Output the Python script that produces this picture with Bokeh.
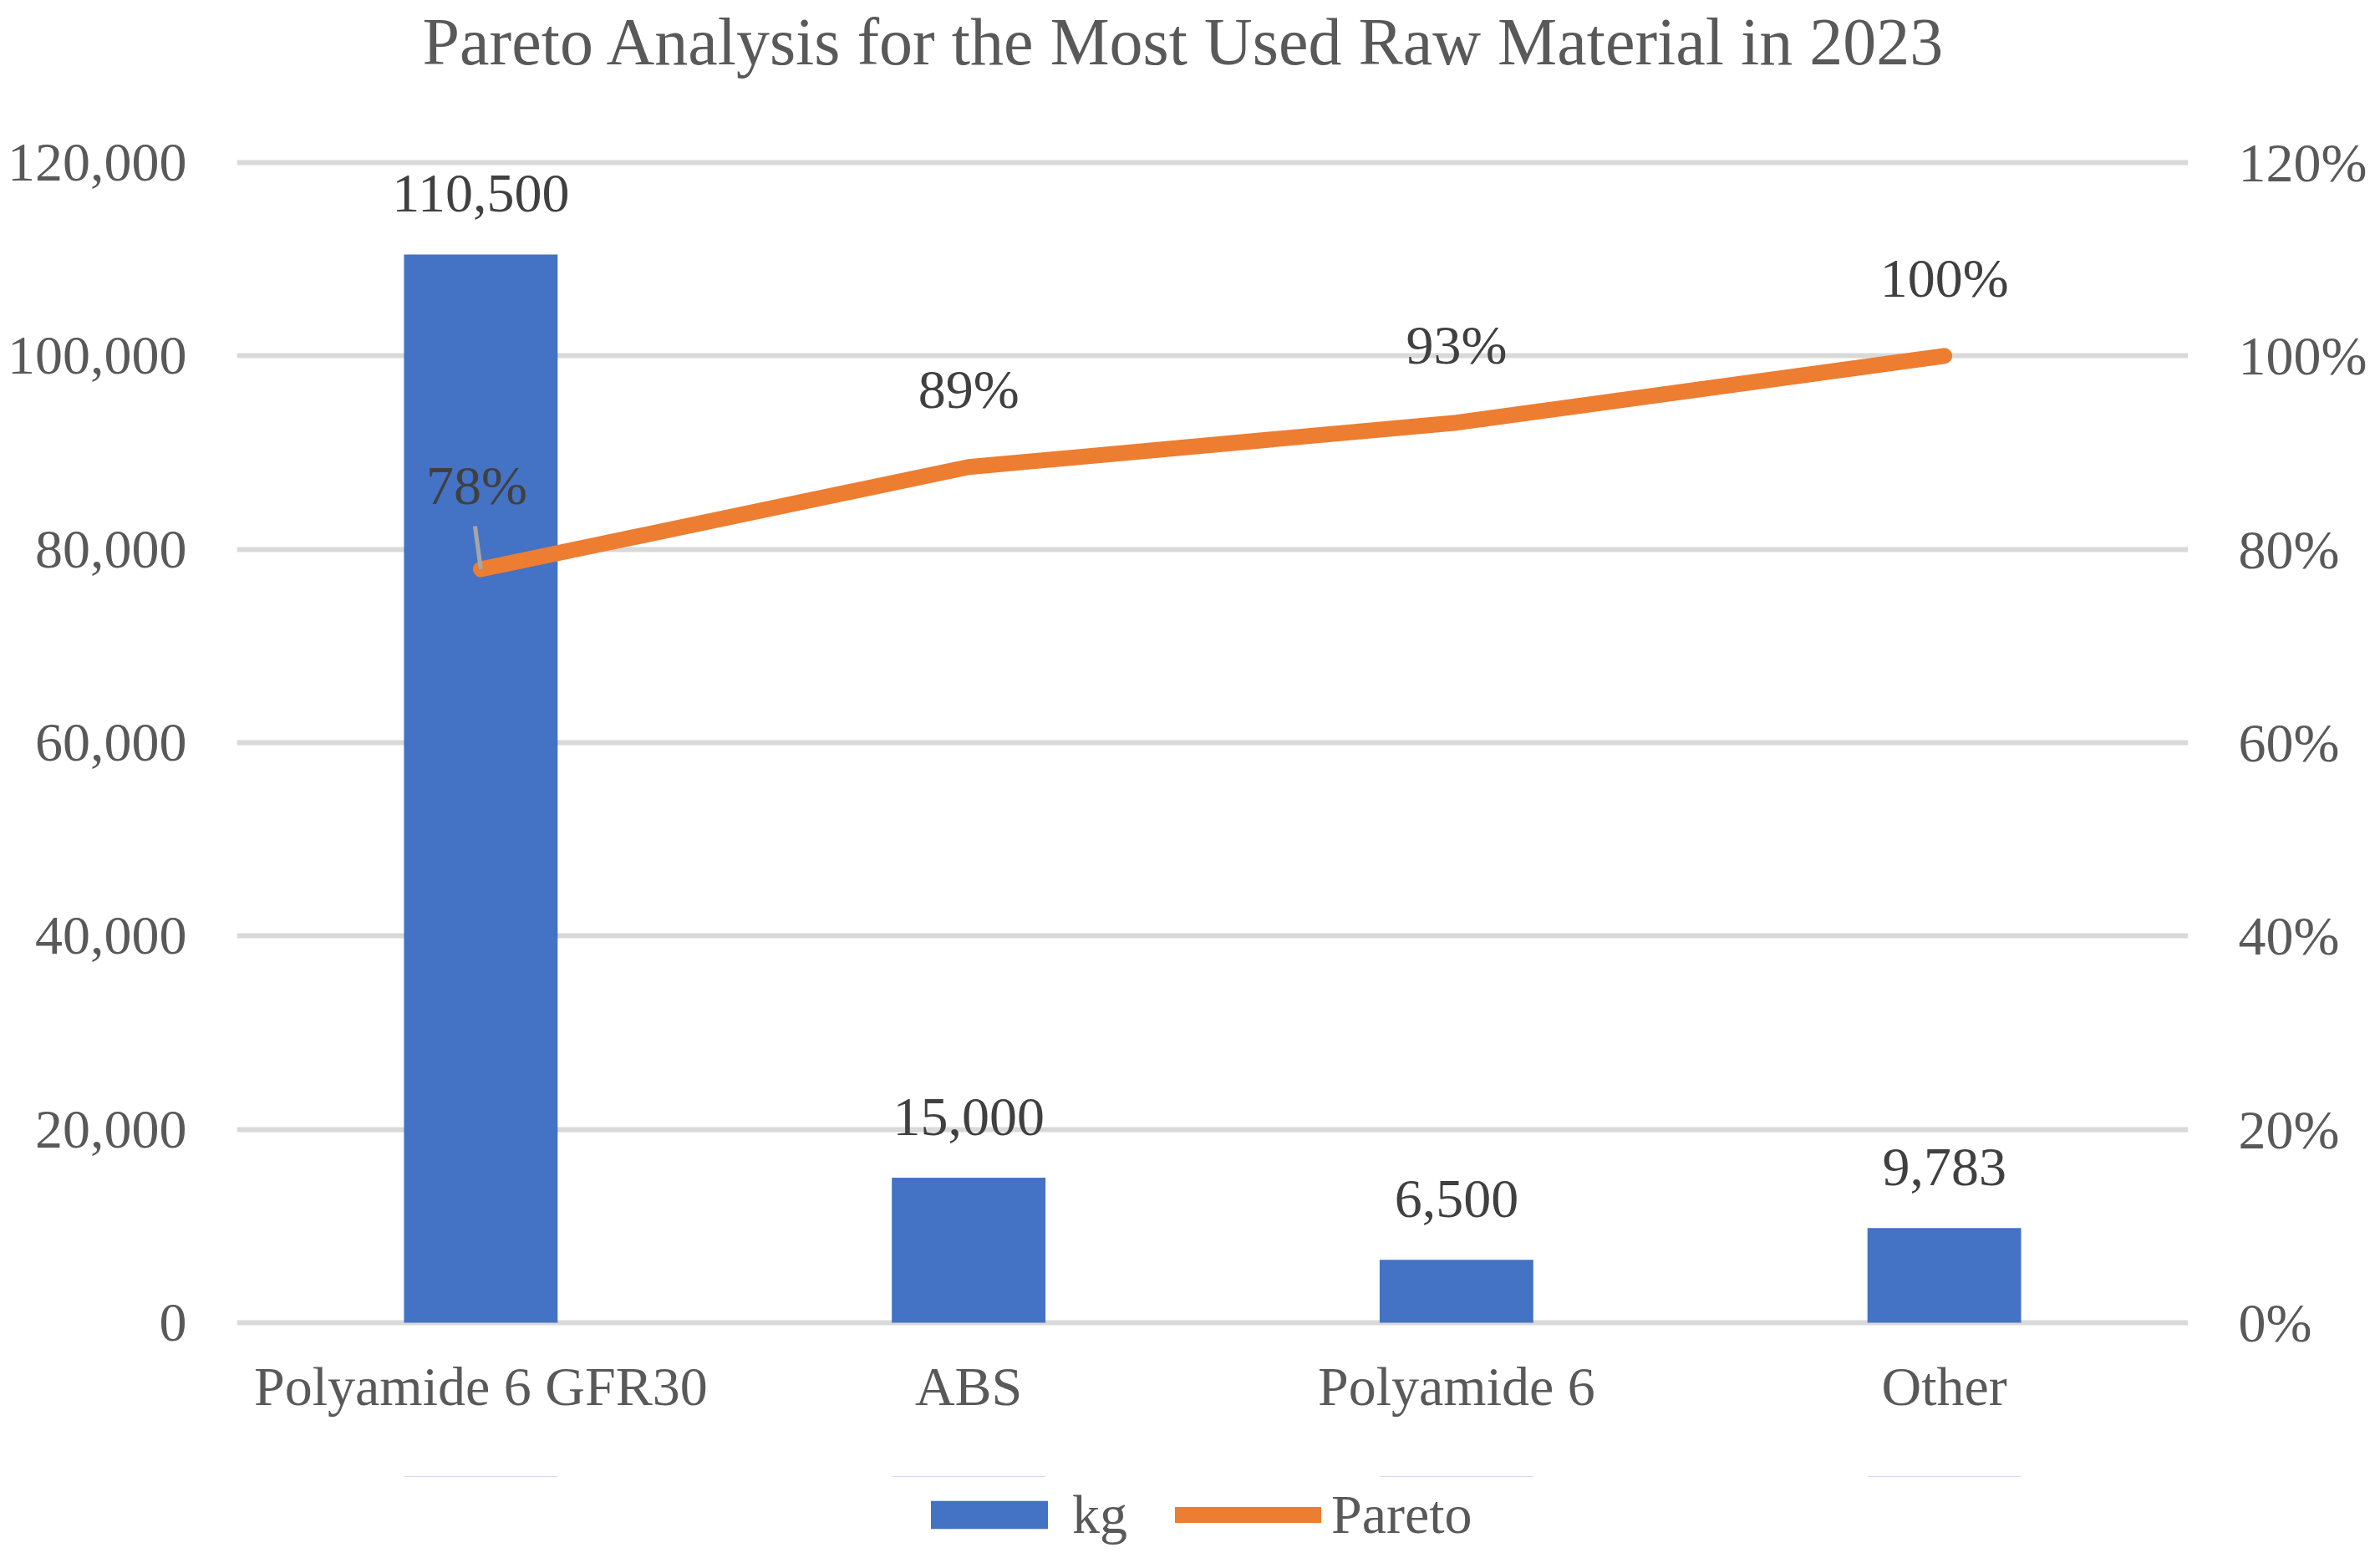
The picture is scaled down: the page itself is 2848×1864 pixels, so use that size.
from bokeh.plotting import figure
from bokeh.layouts import column
from bokeh.models import (Range1d, LinearAxis, FactorRange, ColumnDataSource, LabelSet, Title,
                          Legend, LegendItem, NumeralTickFormatter, FixedTicker)
from bokeh.embed import file_html
from bokeh.resources import INLINE
from bokeh.core.properties import value

# ---- data ----
categories = ["Polyamide 6 GFR30", "ABS", "Polyamide 6", "Other"]
kg = [110500, 15000, 6500, 9783]
pareto = [0.7794, 0.8851, 0.9310, 1.0000]
kg_ticks = [0, 20000, 40000, 60000, 80000, 100000, 120000]
pct_ticks = [0.0, 0.2, 0.4, 0.6, 0.8, 1.0, 1.2]
title_text = "Pareto Analysis for the Most Used Raw Material in 2023"
series_names = ["kg", "Pareto"]

FONT = "Liberation Serif"
BLUE = "#4472C4"
ORANGE = "#ED7D31"

src = ColumnDataSource(dict(
    cat=categories,
    kg=kg,
    pareto=pareto,
    kg_label=[f"{v:,}" for v in kg],
    pct_label=[f"{v:.0%}" for v in pareto],
))
src_first = ColumnDataSource(dict(
    cat=categories[:1], pareto=pareto[:1], pct_label=[f"{v:.0%}" for v in pareto[:1]]
))
src_rest = ColumnDataSource(dict(
    cat=categories[1:], pareto=pareto[1:], pct_label=[f"{v:.0%}" for v in pareto[1:]]
))

W = 2840
LEGEND_H = 90
H = 1856 - LEGEND_H

p = figure(width=W, height=H,
           x_range=FactorRange(factors=categories),
           y_range=Range1d(-350, 120350),
           output_backend="svg", toolbar_location=None, title=None,
           min_border_left=283, min_border_right=222,
           min_border_top=190, min_border_bottom=H - 1586)
p.extra_y_ranges = {"pct": Range1d(-0.0035, 1.2035)}

p.outline_line_color = None
p.xgrid.grid_line_color = None
p.ygrid.grid_line_color = "#D9D9D9"
p.ygrid.grid_line_width = 6
p.ygrid.ticker = FixedTicker(ticks=kg_ticks)

def style_axis(ax, standoff):
    ax.axis_line_color = None
    ax.major_tick_line_color = None
    ax.minor_tick_line_color = None
    ax.major_tick_out = 0
    ax.major_tick_in = 0
    ax.minor_tick_out = 0
    ax.minor_tick_in = 0
    ax.major_label_text_font = FONT
    ax.major_label_text_font_size = "66px"
    ax.major_label_text_color = "#595959"
    ax.major_label_standoff = standoff

p.yaxis.ticker = FixedTicker(ticks=kg_ticks)
p.yaxis.formatter = NumeralTickFormatter(format="0,0")
style_axis(p.yaxis[0], 60)
style_axis(p.xaxis[0], 35)

right = LinearAxis(y_range_name="pct", ticker=FixedTicker(ticks=pct_ticks),
                   formatter=NumeralTickFormatter(format="0%"))
style_axis(right, 60)
p.add_layout(right, "right")

bars = p.vbar(x="cat", top="kg", width=0.315, source=src,
              fill_color=BLUE, line_color=None)
line = p.line(x="cat", y="pareto", source=src, y_range_name="pct",
              line_width=19, line_color=ORANGE, line_cap="round", line_join="round")

# leader line for the first percentage label
p.ray(x="cat", y="pareto", source=src_first, y_range_name="pct",
      length=52, length_units="screen", angle=97.7, angle_units="deg",
      line_color="#A6A6A6", line_width=5)

bar_labels = LabelSet(x="cat", y="kg", text="kg_label", source=src,
                      y_offset=51, text_align="center", text_baseline="alphabetic",
                      text_font=value(FONT), text_font_size=value("66px"),
                      text_color="#404040")
pct_labels = LabelSet(x="cat", y="pareto", text="pct_label", source=src_rest,
                      y_range_name="pct",
                      y_offset=71, text_align="center", text_baseline="alphabetic",
                      text_font=value(FONT), text_font_size=value("66px"),
                      text_color="#404040")
first_label = LabelSet(x="cat", y="pareto", text="pct_label", source=src_first,
                       y_range_name="pct", x_offset=-5,
                       y_offset=78, text_align="center", text_baseline="alphabetic",
                       text_font=value(FONT), text_font_size=value("66px"),
                       text_color="#404040")
p.add_layout(bar_labels)
p.add_layout(pct_labels)
p.add_layout(first_label)

# spacer between plot frame and title (closest to frame), then the title itself
spacer = Title(text=" ", text_font_size="10px", standoff=86)
p.add_layout(spacer, "above")
main_title = Title(text=title_text, text_font=FONT, text_font_size="80px",
                   text_font_style="normal", text_color="#595959",
                   align="left", offset=222, vertical_align="top", standoff=-8)
p.add_layout(main_title, "above")

# ---- legend strip below the chart ----
# the same series are drawn here, but the y range lies away from all values,
# so only their legend glyphs show
p2 = figure(width=W, height=LEGEND_H, x_range=FactorRange(factors=categories),
            y_range=Range1d(-300000, -200000),
            output_backend="svg", toolbar_location=None, title=None,
            x_axis_location=None, y_axis_location=None,
            min_border_left=0, min_border_right=0, min_border_top=0, min_border_bottom=0)
p2.grid.visible = False
p2.outline_line_color = None
leg_bar = p2.vbar(x="cat", top="kg", width=0.315, source=src,
                  fill_color=BLUE, line_color=None)
leg_line = p2.line(x="cat", y="pareto", source=src, line_width=19,
                   line_color=ORANGE, line_cap="round")

legend = Legend(items=[LegendItem(label=series_names[0], renderers=[leg_bar]),
                       LegendItem(label=series_names[1], renderers=[leg_line])],
                orientation="horizontal", location=(813, 6),
                glyph_width=175, glyph_height=42, label_standoff=12, spacing=57,
                label_text_font=FONT, label_text_font_size="66px",
                label_text_color="#595959",
                border_line_color=None, background_fill_alpha=0,
                padding=0, margin=0)
p2.add_layout(legend)

layout = column(p, p2, spacing=0)
open("out.html", "w").write(file_html(layout, INLINE))
